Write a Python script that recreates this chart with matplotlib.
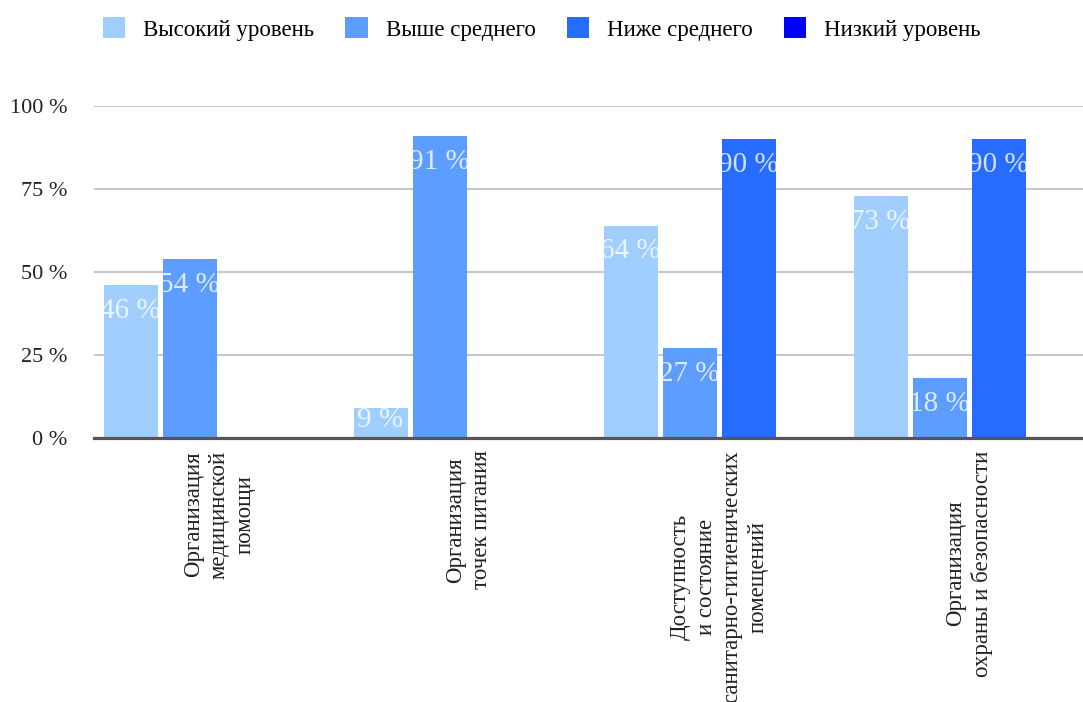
import numpy as np
import matplotlib
matplotlib.use("Agg")
import matplotlib.pyplot as plt

plt.rcParams['font.family'] = ['Liberation Serif', 'DejaVu Serif']

# categories / series
categories = [
    "Организация\nмедицинской\nпомощи",
    "Организация\nточек питания",
    "Доступность\nи состояние\nсанитарно-гигиенических\nпомещений",
    "Организация\nохраны и безопасности",
]
series_names = ["Высокий уровень", "Выше среднего", "Ниже среднего", "Низкий уровень"]
high = [46, 9, 64, 73]
above_avg = [54, 91, 27, 18]
below_avg = [0, 0, 90, 90]
low = [0, 0, 0, 0]
colors = ["#9fceff", "#5c9dff", "#266cff", "#0000ff"]
yticks = [0, 25, 50, 75, 100]

W, H = 1083, 702
fig = plt.figure(figsize=(W / 100, H / 100), dpi=100)
ax = fig.add_axes([94 / W, (H - 438) / H, 1000 / W, 332 / H])

x = np.arange(len(categories))
pitch = 0.236
width = 0.216

for i, (name, vals, col) in enumerate(zip(series_names, [high, above_avg, below_avg, low], colors)):
    bars = ax.bar(x + (i - 1.5) * pitch, vals, width, color=col, label=name, zorder=2)
    for b, v in zip(bars, vals):
        if v <= 0:
            continue
        # value label sits near the top of the bar, clipped to it
        t = ax.text(b.get_x() + b.get_width() / 2, max(v - 9.9, 3.3), f"{v} %",
                    ha="center", va="baseline", fontsize=21, color="white", alpha=0.8,
                    zorder=3)
        t.set_clip_path(b)

ax.set_xlim(-0.5, 3.5)
ax.set_ylim(0, 100)
ax.set_yticks(yticks)
ax.set_yticklabels([f"{v} %" for v in yticks], fontsize=16, color="#222")
ax.yaxis.grid(True, color="#c8c8c8", linewidth=1.5, zorder=0)
ax.set_axisbelow(True)
ax.axhline(0, color="#555555", linewidth=2.3, zorder=4, clip_on=False)
for s in ax.spines.values():
    s.set_visible(False)
ax.tick_params(axis="y", length=0, pad=19)
ax.tick_params(axis="x", length=0, pad=9)
ax.set_xticks(x)
ax.set_xticklabels(categories, rotation=90, fontsize=16.5, color="#222",
                   multialignment="center", linespacing=1.3)

fig.legend(loc="center left", bbox_to_anchor=(103 / W, 1 - 29 / H), ncol=4,
           frameon=False, fontsize=16.5, handlelength=0.97, handleheight=1.0,
           handletextpad=0.78, columnspacing=1.36, borderpad=0, borderaxespad=0)

fig.savefig("out.png", dpi=100)
